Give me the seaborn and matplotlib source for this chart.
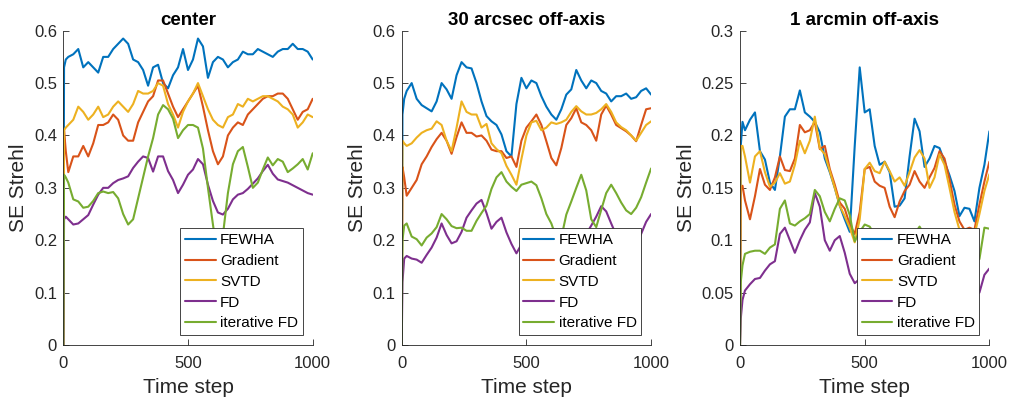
import matplotlib
matplotlib.use("Agg")
import matplotlib.pyplot as plt
from matplotlib.lines import Line2D
import numpy as np
import pandas as pd
import seaborn as sns

# ---------------- data ----------------
T = [0, 3, 10] + list(range(20, 1001, 20))

METHODS = ["FEWHA", "Gradient", "SVTD", "FD", "iterative FD"]
COLORS = ["#0072BD", "#D95319", "#EDB120", "#7E2F8E", "#77AC30"]

TITLES = ["center", "30 arcsec off-axis", "1 arcmin off-axis"]

# center
c_fewha = [0, 0.53, 0.545,
           0.55, 0.555, 0.565, 0.53, 0.54, 0.53, 0.52, 0.55, 0.55, 0.565,
           0.575, 0.585, 0.575, 0.545, 0.54, 0.525, 0.495, 0.53, 0.535, 0.5,
           0.49, 0.515, 0.53, 0.565, 0.525, 0.545, 0.585, 0.57, 0.51, 0.54,
           0.55, 0.545, 0.53, 0.54, 0.545, 0.56, 0.555, 0.555, 0.565, 0.56,
           0.555, 0.55, 0.56, 0.565, 0.565, 0.575, 0.565, 0.565, 0.56, 0.545]
c_grad = [0, 0.41, 0.37,
          0.33, 0.36, 0.36, 0.38, 0.36, 0.385, 0.42, 0.42, 0.425, 0.44,
          0.43, 0.40, 0.39, 0.39, 0.425, 0.445, 0.465, 0.475, 0.505, 0.505,
          0.48, 0.455, 0.435, 0.45, 0.465, 0.48, 0.495, 0.455, 0.41, 0.37,
          0.345, 0.36, 0.40, 0.415, 0.425, 0.42, 0.44, 0.45, 0.46, 0.47,
          0.475, 0.475, 0.48, 0.48, 0.47, 0.45, 0.43, 0.445, 0.45, 0.47]
c_svtd = [0, 0.41, 0.415,
          0.42, 0.43, 0.455, 0.445, 0.43, 0.44, 0.455, 0.435, 0.44, 0.455,
          0.465, 0.455, 0.445, 0.46, 0.485, 0.48, 0.48, 0.485, 0.50, 0.495,
          0.46, 0.44, 0.415, 0.445, 0.465, 0.48, 0.50, 0.475, 0.45, 0.43,
          0.42, 0.415, 0.435, 0.44, 0.46, 0.455, 0.47, 0.465, 0.47, 0.475,
          0.475, 0.47, 0.465, 0.455, 0.45, 0.44, 0.415, 0.425, 0.44, 0.435]
c_fd = [0, 0.24, 0.245,
        0.24, 0.23, 0.232, 0.24, 0.248, 0.268, 0.287, 0.30, 0.30, 0.309,
        0.315, 0.318, 0.322, 0.338, 0.35, 0.36, 0.357, 0.331, 0.36, 0.36,
        0.332, 0.315, 0.29, 0.306, 0.325, 0.335, 0.355, 0.345, 0.306, 0.275,
        0.253, 0.249, 0.26, 0.278, 0.287, 0.29, 0.298, 0.308, 0.318, 0.332,
        0.344, 0.327, 0.316, 0.313, 0.31, 0.305, 0.30, 0.295, 0.29, 0.287]
c_ifd = [0, 0.325, 0.32,
         0.31, 0.278, 0.274, 0.262, 0.264, 0.275, 0.29, 0.293, 0.29, 0.292,
         0.28, 0.25, 0.23, 0.24, 0.28, 0.32, 0.36, 0.395, 0.44, 0.458,
         0.45, 0.432, 0.395, 0.41, 0.42, 0.42, 0.415, 0.375, 0.30, 0.23,
         0.165, 0.21, 0.29, 0.345, 0.37, 0.378, 0.34, 0.30, 0.31, 0.335,
         0.358, 0.343, 0.355, 0.35, 0.33, 0.337, 0.345, 0.355, 0.335, 0.366]

# 30 arcsec off-axis
a_fewha = [0, 0.44, 0.47,
           0.485, 0.50, 0.47, 0.458, 0.452, 0.446, 0.465, 0.50, 0.488, 0.47,
           0.515, 0.54, 0.53, 0.528, 0.50, 0.465, 0.437, 0.427, 0.42, 0.402,
           0.37, 0.36, 0.46, 0.51, 0.49, 0.505, 0.50, 0.475, 0.455, 0.44,
           0.43, 0.45, 0.478, 0.488, 0.525, 0.505, 0.49, 0.505, 0.50, 0.485,
           0.48, 0.465, 0.475, 0.475, 0.48, 0.47, 0.473, 0.485, 0.49, 0.478]
a_grad = [0, 0.34, 0.32,
          0.285, 0.30, 0.315, 0.345, 0.36, 0.378, 0.393, 0.405, 0.39, 0.365,
          0.397, 0.425, 0.405, 0.405, 0.398, 0.40, 0.39, 0.373, 0.37, 0.37,
          0.357, 0.36, 0.34, 0.39, 0.415, 0.427, 0.44, 0.42, 0.389, 0.357,
          0.343, 0.376, 0.42, 0.433, 0.452, 0.425, 0.42, 0.41, 0.39, 0.44,
          0.457, 0.44, 0.42, 0.414, 0.408, 0.40, 0.389, 0.42, 0.45, 0.452]
a_svtd = [0, 0.39, 0.385,
          0.38, 0.385, 0.396, 0.405, 0.41, 0.413, 0.427, 0.42, 0.39, 0.37,
          0.415, 0.465, 0.445, 0.44, 0.44, 0.415, 0.422, 0.385, 0.374, 0.366,
          0.342, 0.325, 0.306, 0.355, 0.40, 0.425, 0.428, 0.41, 0.415, 0.425,
          0.422, 0.425, 0.43, 0.445, 0.456, 0.446, 0.44, 0.44, 0.443, 0.45,
          0.46, 0.445, 0.425, 0.416, 0.41, 0.40, 0.39, 0.405, 0.42, 0.427]
a_fd = [0, 0.12, 0.165,
        0.17, 0.165, 0.163, 0.157, 0.172, 0.186, 0.205, 0.232, 0.21, 0.194,
        0.198, 0.216, 0.243, 0.257, 0.27, 0.277, 0.252, 0.222, 0.235, 0.243,
        0.215, 0.193, 0.175, 0.192, 0.195, 0.185, 0.2, 0.21, 0.2, 0.19,
        0.18, 0.17, 0.18, 0.19, 0.2, 0.205, 0.212, 0.228, 0.245, 0.265,
        0.255, 0.232, 0.21, 0.2, 0.19, 0.185, 0.195, 0.212, 0.235, 0.25]
a_ifd = [0, 0.2, 0.228,
         0.232, 0.207, 0.202, 0.19, 0.205, 0.213, 0.225, 0.25, 0.24, 0.227,
         0.223, 0.224, 0.218, 0.218, 0.237, 0.252, 0.266, 0.298, 0.32, 0.33,
         0.312, 0.302, 0.294, 0.306, 0.309, 0.312, 0.305, 0.28, 0.25, 0.232,
         0.205, 0.205, 0.249, 0.274, 0.3, 0.325, 0.295, 0.24, 0.225, 0.258,
         0.29, 0.306, 0.29, 0.272, 0.257, 0.25, 0.262, 0.282, 0.31, 0.337]

# 1 arcmin off-axis
m_fewha = [0, 0.19, 0.213,
           0.205, 0.215, 0.222, 0.185, 0.177, 0.155, 0.148, 0.18, 0.218, 0.225,
           0.225, 0.243, 0.222, 0.218, 0.213, 0.203, 0.178, 0.165, 0.15, 0.133,
           0.12, 0.108, 0.19, 0.265, 0.222, 0.225, 0.19, 0.172, 0.175, 0.165,
           0.132, 0.133, 0.14, 0.18, 0.216, 0.204, 0.17, 0.178, 0.19, 0.188,
           0.175, 0.162, 0.147, 0.123, 0.131, 0.13, 0.118, 0.15, 0.172, 0.204]
m_grad = [0, 0.15, 0.152,
          0.138, 0.12, 0.142, 0.168, 0.153, 0.148, 0.16, 0.18, 0.167, 0.166,
          0.178, 0.21, 0.203, 0.205, 0.213, 0.187, 0.19, 0.168, 0.153, 0.136,
          0.13, 0.115, 0.106, 0.127, 0.168, 0.17, 0.156, 0.152, 0.15, 0.132,
          0.122, 0.137, 0.147, 0.153, 0.166, 0.156, 0.15, 0.16, 0.169, 0.185,
          0.178, 0.158, 0.134, 0.118, 0.11, 0.112, 0.11, 0.134, 0.156, 0.175]
m_svtd = [0, 0.19, 0.19,
          0.18, 0.155, 0.18, 0.185, 0.165, 0.151, 0.155, 0.164, 0.154, 0.156,
          0.172, 0.195, 0.183, 0.195, 0.218, 0.188, 0.182, 0.166, 0.15, 0.133,
          0.123, 0.112, 0.098, 0.12, 0.168, 0.174, 0.166, 0.164, 0.175, 0.166,
          0.156, 0.16, 0.152, 0.165, 0.179, 0.186, 0.178, 0.15, 0.16, 0.182,
          0.172, 0.15, 0.127, 0.11, 0.1, 0.098, 0.105, 0.125, 0.147, 0.163]
m_fd = [0, 0.025, 0.043,
        0.052, 0.058, 0.063, 0.064, 0.071, 0.077, 0.08, 0.106, 0.112, 0.1,
        0.088, 0.1, 0.11, 0.117, 0.145, 0.132, 0.1, 0.09, 0.1, 0.104,
        0.088, 0.068, 0.059, 0.063, 0.067, 0.07, 0.072, 0.07, 0.074, 0.078,
        0.075, 0.07, 0.072, 0.078, 0.082, 0.08, 0.076, 0.072, 0.075, 0.078,
        0.074, 0.068, 0.062, 0.058, 0.055, 0.05, 0.047, 0.05, 0.067, 0.073]
m_ifd = [0, 0.06, 0.076,
         0.087, 0.089, 0.09, 0.09, 0.087, 0.093, 0.096, 0.13, 0.138, 0.116,
         0.114, 0.118, 0.121, 0.125, 0.148, 0.142, 0.127, 0.118, 0.13, 0.14,
         0.138, 0.124, 0.099, 0.108, 0.115, 0.113, 0.105, 0.1, 0.095, 0.098,
         0.102, 0.098, 0.095, 0.1, 0.106, 0.113, 0.105, 0.1, 0.097, 0.1,
         0.098, 0.095, 0.092, 0.088, 0.085, 0.083, 0.08, 0.082, 0.112, 0.111]

PANELS = [
    [c_fewha, c_grad, c_svtd, c_fd, c_ifd],
    [a_fewha, a_grad, a_svtd, a_fd, a_ifd],
    [m_fewha, m_grad, m_svtd, m_fd, m_ifd],
]

YTICKS = [
    [0, 0.1, 0.2, 0.3, 0.4, 0.5, 0.6],
    [0, 0.1, 0.2, 0.3, 0.4, 0.5, 0.6],
    [0, 0.05, 0.1, 0.15, 0.2, 0.25, 0.3],
]
YTICKLABELS = [
    ["0", "0.1", "0.2", "0.3", "0.4", "0.5", "0.6"],
    ["0", "0.1", "0.2", "0.3", "0.4", "0.5", "0.6"],
    ["0", "0.05", "0.1", "0.15", "0.2", "0.25", "0.3"],
]
YMAX = [0.6, 0.6, 0.3]
XTICKS = [0, 500, 1000]
XTICKLABELS = ["0", "500", "1000"]

# ---------------- style ----------------
sns.set_style("ticks")
plt.rcParams["font.family"] = ["Liberation Sans", "DejaVu Sans"]
AXC = "#262626"

fig = plt.figure(figsize=(10.11, 4.05), dpi=100)
W, H = 1011.0, 405.0
lefts = [63.3, 401.7, 740.0]
bottom_px, top_px = 345.0, 30.7
aw = 249.4

palette = dict(zip(METHODS, COLORS))

for i in range(3):
    ax = fig.add_axes([lefts[i] / W, (H - bottom_px) / H, aw / W, (bottom_px - top_px) / H])
    rows = []
    for name, vals in zip(METHODS, PANELS[i]):
        for t, v in zip(T, vals):
            rows.append((t, v, name))
    df = pd.DataFrame(rows, columns=["t", "v", "method"])
    sns.lineplot(data=df, x="t", y="v", hue="method", hue_order=METHODS,
                 palette=palette, estimator=None, linewidth=1.5, legend=False, ax=ax)

    ax.set_xlim(0, 1000)
    ax.set_ylim(0, YMAX[i])
    ax.set_xticks(XTICKS)
    ax.set_xticklabels(XTICKLABELS)
    ax.set_yticks(YTICKS[i])
    ax.set_yticklabels(YTICKLABELS[i])
    for s in ["top", "right"]:
        ax.spines[s].set_visible(False)
    for s in ["left", "bottom"]:
        ax.spines[s].set_color(AXC)
        ax.spines[s].set_linewidth(0.6)
    ax.tick_params(axis="both", direction="in", length=4, width=0.6,
                   colors=AXC, labelsize=12)
    ax.tick_params(axis="x", pad=8)
    ax.tick_params(axis="y", pad=4.5)
    ax.set_xlabel("Time step", fontsize=15, color=AXC, labelpad=5)
    ax.set_ylabel("SE Strehl", fontsize=15, color=AXC, labelpad=4)
    ax.set_title(TITLES[i], fontsize=13.5, fontweight="bold", color="black", pad=4)

    handles = [Line2D([0], [0], color=c, lw=1.5) for c in COLORS]
    leg = ax.legend(handles, METHODS, loc="lower right", fontsize=11,
                    frameon=True, fancybox=False, framealpha=1,
                    edgecolor=AXC, borderaxespad=0.65, borderpad=0.3,
                    handlelength=2.0, handletextpad=0.3, labelspacing=0.45)
    leg.get_frame().set_linewidth(0.6)
    for txt in leg.get_texts():
        txt.set_color("black")

fig.savefig("out.png", dpi=100)
